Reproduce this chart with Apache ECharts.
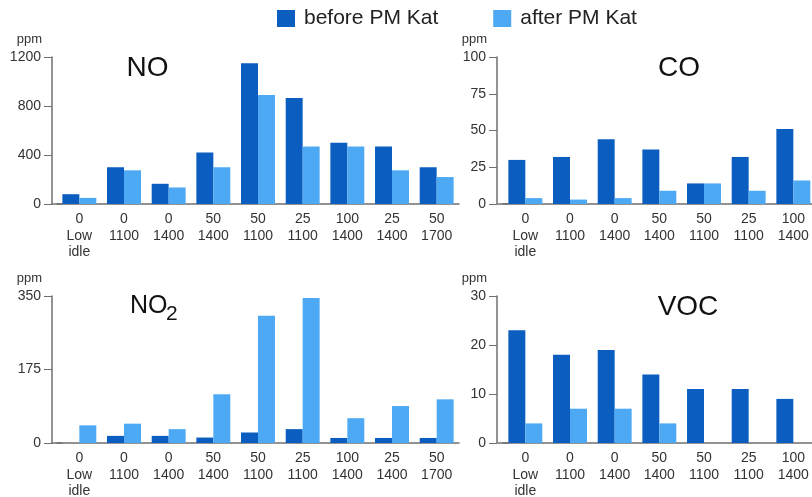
<!DOCTYPE html>
<html>
<head>
<meta charset="utf-8">
<title>Emissions before and after PM Kat</title>
<script src="https://cdn.jsdelivr.net/npm/echarts@6/dist/echarts.min.js"></script>
<style>
  html, body { margin: 0; padding: 0; background: #fff; }
  #chart { width: 812px; height: 497px; }
</style>
</head>
<body>
<div id="chart"></div>
<script>
// Operating points: load (%) / engine speed (rpm)
const categories = ['0\nLow\nidle', '0\n1100', '0\n1400', '50\n1400', '50\n1100', '25\n1100', '100\n1400', '25\n1400', '50\n1700'];

// NO (ppm)
const noBefore = [80, 300, 165, 420, 1150, 865, 500, 470, 300];
const noAfter  = [50, 275, 135, 300, 890, 470, 470, 275, 220];

// CO (ppm)
const coBefore = [30, 32, 44, 37, 14, 32, 51, null, null];
const coAfter  = [4, 3, 4, 9, 14, 9, 16, null, null];

// NO2 (ppm)
const no2Before = [0, 17, 17, 13, 25, 33, 12, 12, 12];
const no2After  = [42, 46, 33, 116, 303, 345, 59, 88, 104];

// VOC (ppm)
const vocBefore = [23, 18, 19, 14, 11, 11, 9, null, null];
const vocAfter  = [4, 7, 7, 4, 0, 0, 0, null, null];

// Y axis ranges and ticks per panel
const noTicks  = { max: 1200, interval: 400 };
const coTicks  = { max: 100, interval: 25 };
const no2Ticks = { max: 350, interval: 175 };
const vocTicks = { max: 30, interval: 10 };

const seriesNames = ['before PM Kat', 'after PM Kat'];
const colors = ['#0b5ec0', '#4da9f4'];
const FONT = '"Liberation Sans", Arial, sans-serif';
const AXIS_COLOR = '#6f6f6f';
const LABEL_COLOR = '#333';

const panels = [
  { before: noBefore,  after: noAfter,  ticks: noTicks,  left: 57,  top: 57 },
  { before: coBefore,  after: coAfter,  ticks: coTicks,  left: 503, top: 57 },
  { before: no2Before, after: no2After, ticks: no2Ticks, left: 57,  top: 296 },
  { before: vocBefore, after: vocAfter, ticks: vocTicks, left: 503, top: 296 }
];

// Right-hand panels run past the page edge, so the grids keep their full size
const grid = panels.map(p => ({
  left: p.left, top: p.top, width: 402, height: 147,
  outerBoundsMode: 'none',
  containLabel: false
}));

const xAxis = panels.map((p, i) => ({
  type: 'category',
  gridIndex: i,
  data: categories,
  axisLine: {
    lineStyle: { color: AXIS_COLOR, width: 1.5 },
    // short cap at the start so the baseline reaches the offset y axis
    symbol: ['rect', 'none'],
    symbolSize: [1.5, 11],
    symbolOffset: [0, 0]
  },
  axisTick: { show: false },
  axisLabel: {
    interval: 0,
    margin: 7,
    fontFamily: FONT,
    fontSize: 14,
    lineHeight: 16.5,
    color: LABEL_COLOR
  }
}));

const yAxis = panels.map((p, i) => ({
  type: 'value',
  gridIndex: i,
  min: 0,
  max: p.ticks.max,
  interval: p.ticks.interval,
  offset: i % 2 === 0 ? 5 : 6,
  name: 'ppm',
  nameLocation: 'end',
  nameGap: 11,
  nameTextStyle: {
    fontFamily: FONT,
    fontSize: 13,
    color: LABEL_COLOR,
    align: 'right',
    padding: [0, 10, 0, 0]
  },
  axisLine: { show: true, lineStyle: { color: AXIS_COLOR, width: 1.5 } },
  axisTick: { show: true, length: 8, lineStyle: { color: AXIS_COLOR } },
  splitLine: { show: false },
  axisLabel: {
    margin: 11,
    fontFamily: FONT,
    fontSize: 14,
    color: LABEL_COLOR,
    formatter: v => String(v)
  }
}));

const series = [];
panels.forEach((p, i) => {
  [p.before, p.after].forEach((values, k) => {
    series.push({
      name: seriesNames[k],
      type: 'bar',
      xAxisIndex: i,
      yAxisIndex: i,
      data: values,
      barGap: '0%',
      barCategoryGap: '24%',
      itemStyle: { color: colors[k] },
      emphasis: { disabled: true }
    });
  });
});

// Panel titles
const titleText = (text, x, y, size, align) => ({
  type: 'text',
  x: x,
  y: y,
  silent: true,
  style: {
    text: text,
    fontFamily: FONT,
    fontSize: size,
    fill: '#111',
    align: align || 'center',
    verticalAlign: 'middle'
  }
});

const graphic = [
  titleText('NO', 147.5, 68.5, 28),
  titleText('CO', 679, 68.5, 28),
  titleText('VOC', 688, 306.8, 28),
  titleText('NO', 130, 305.8, 25, 'left'),
  titleText('2', 166, 314.2, 21, 'left')
];

const chart = echarts.init(document.getElementById('chart'), null, { renderer: 'canvas' });
chart.setOption({
  backgroundColor: '#fff',
  animation: false,
  color: colors,
  legend: {
    data: seriesNames,
    left: 277,
    top: 8,
    padding: 0,
    itemWidth: 18,
    itemHeight: 17,
    itemGap: 55,
    icon: 'rect',
    textStyle: {
      fontFamily: FONT,
      fontSize: 21,
      color: '#222',
      padding: [0, 0, 0, 4]
    }
  },
  grid: grid,
  xAxis: xAxis,
  yAxis: yAxis,
  series: series,
  graphic: graphic
});
</script>
</body>
</html>
